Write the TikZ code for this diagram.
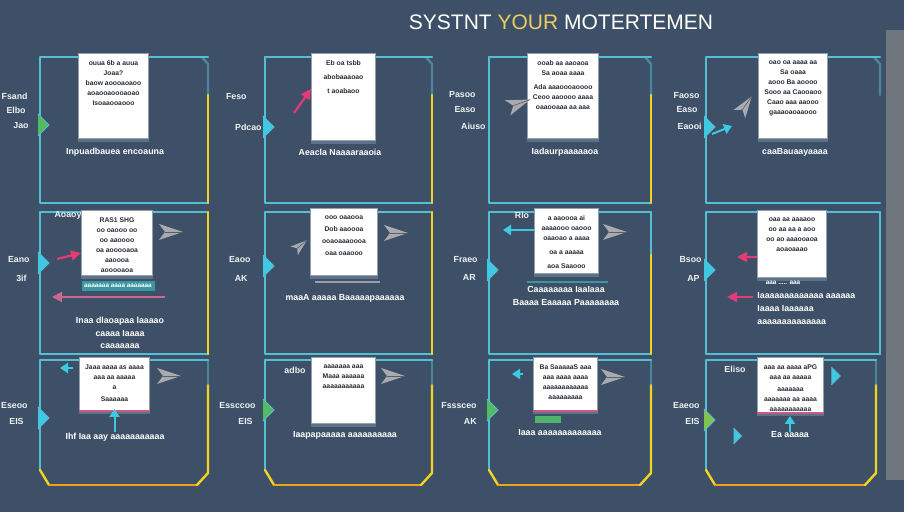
\documentclass[tikz,border=0pt]{standalone}
\usepackage{fontspec}
\setmainfont{Liberation Sans}
\usetikzlibrary{positioning, arrows.meta}

\definecolor{slate}{RGB}{61,80,103}
\definecolor{edgecy}{RGB}{84,190,212}
\definecolor{edgeyl}{RGB}{240,212,32}
\definecolor{edgeor}{RGB}{242,162,22}
\definecolor{cardrim}{RGB}{150,160,170}
\definecolor{cardfoot}{RGB}{92,114,137}
\definecolor{ink}{RGB}{40,44,52}
\definecolor{arrgrey}{RGB}{168,170,176}
\definecolor{arrpink}{RGB}{228,58,118}
\definecolor{arrcyan}{RGB}{62,200,226}
\definecolor{arrgreen}{RGB}{84,186,96}
\definecolor{teal}{RGB}{58,150,160}
\definecolor{sidebar}{RGB}{112,118,126}
\definecolor{titlegold}{RGB}{236,204,96}

\tikzset{
  edgec/.style={draw=edgecy, line width=1.2pt, line cap=round, line join=round},
  edgey/.style={draw=edgeyl, line width=1.2pt, line cap=round, line join=round},
  edgeo/.style={draw=edgeor, line width=1.4pt, line cap=round},
  card/.style={draw=cardrim, fill=white, line width=0.5pt, inner sep=0pt, anchor=north west},
  cardtxt/.style={font=\fontsize{3.4}{5}\selectfont\bfseries, text=ink, align=center, inner sep=0pt, anchor=north},
  capt/.style={font=\fontsize{4.4}{6.4}\selectfont\bfseries, text=white, align=center, inner sep=0pt},
  sidelbl/.style={font=\fontsize{4.4}{5.5}\selectfont\bfseries, text=white!92!slate, inner sep=0pt, anchor=east},
  title/.style={font=\fontsize{10.5}{12}\selectfont, text=white, inner sep=0pt},
  pinkarr/.style={draw=arrpink, line width=1.1pt, -{Triangle[length=5pt, width=5pt]}},
  cyanarr/.style={draw=arrcyan, line width=1pt, -{Triangle[length=4pt, width=5pt]}},
  pics/plane/.style={code={
    \fill[arrgrey] (-11,-8) -- (13,0) -- (-11,8) -- (-5,0) -- cycle;
    \draw[arrgrey!55!black, line width=0.3pt] (-5,0) -- (13,0);}},
  pics/edgetri/.style={code={
    \fill[#1] (-2,-11) -- (9,0) -- (-2,11) -- cycle;
    \draw[edgecy, line width=0.5pt] (-2,-11) -- (9,0) -- (-2,11);}},
}

\newcommand\notecard[6]{%
  \node[card, minimum width=#4*0.5pt, minimum height=#5*0.5pt] (#1) at (#2,#3) {};
  \draw[cardfoot, line width=1.3pt] ([yshift=-0.7pt]#1.south west) -- ([yshift=-0.7pt]#1.south east);
  \node[cardtxt] (#1t) at ([yshift=-3.5pt]#1.north) {#6};}

\begin{document}
\begin{tikzpicture}[x=0.5pt, y=-0.5pt]
\fill[slate] (0,0) rectangle (904,512);
\useasboundingbox (0,0) rectangle (904,512);
\fill[sidebar] (886,30) rectangle (904,480);

\node[title] (ttl) at (561,22) {SYSTNT {\color{titlegold}YOUR} MOTERTEMEN};

% panel frames, rows 1 and 2
\foreach \xl/\xr in {40/208, 265/432, 489/651, 706/880} {
  \draw[edgec] (\xr,57) -- (\xl,57) -- (\xl,203) -- (\xr,203);
  \draw[edgec, opacity=.5] (\xr-6,57) -- (\xr,64) -- (\xr,95);
  \draw[edgec] (\xr,212) -- (\xl,212) -- (\xl,354) -- (\xr,354);
}
\foreach \xr in {208, 432, 651}
  \draw[edgey] (\xr,95) -- (\xr,203);
\draw[edgey] (208,212) -- (208,354);
\draw[edgey] (432,212) -- (432,354);
\draw[edgec] (651,212) -- (651,255);
\draw[edgey] (651,255) -- (651,354);
\draw[edgec] (880,212) -- (880,354);

% panel frames, row 3
\foreach \xl/\xr in {40/208, 265/432, 489/651, 706/876} {
  \draw[edgec] (\xr,360) -- (\xl,360) -- (\xl,470);
  \draw[edgey] (\xl,470) -- (\xl+9,485);
  \draw[edgeo] (\xl+9,485) -- (\xr-11,485);
  \draw[edgey] (\xr-11,485) -- (\xr,473) -- (\xr,385);
  \draw[edgec, opacity=.5] (\xr,360) -- (\xr,385);
}

% note cards
\notecard{c11}{78}{53}{70}{85}{ouua 6b a auua\\ Joaa?\\ baow aoooaoaoo\\ aoaooaoooaoao\\ Isoaaooaooo}
\notecard{c12}{311}{53}{64}{87}{Eb oa tsbb\\[2pt] abobaaaoao\\[2pt] t aoabaoo}
\notecard{c13}{527}{53}{71}{85}{ooab aa aaoaoa\\ Sa aoaa aaaa\\[2pt] Ada aaaoooaoooo\\ Ceoo aaoooo aaaa\\ oaaooaaa aa aaa}
\notecard{c14}{758}{53}{69}{85}{oao oa aaaa aa\\ Sa oaaa\\ aooo Ba aoooo\\ Sooo aa Caooaoo\\ Caao aaa aaooo\\ gaaaoaoaaooo}
\notecard{c21}{81}{210}{71}{65}{RAS1 SHG\\ oo oaooo oo\\ oo aaoooo\\ oa aooooaoa\\ aaoooa\\ aooooaoa}
\notecard{c22}{310}{208}{67}{67}{ooo oaaooa\\[1pt] Dob aaoooa\\[1pt] ooaoaaaoooa\\[1pt] oaa oaaooo}
\notecard{c23}{534}{208}{64}{65}{a aaoooa ai\\ aaaaooo oaooo\\ oaaoao a aaaa\\[2pt] oa a aaaaa\\[2pt] aoa Saaooo}
\notecard{c24}{757}{210}{69}{67}{oaa aa aaaaoo\\ oo aa aa a aoo\\ oo ao aaaooaoa\\ aoaoaaao}
\notecard{c31}{79}{357}{70}{53}{Jaaa aaaa as aaaa\\ aaa aa aaaaa\\ a\\[1pt] Saaaaaa}
\notecard{c32}{311}{357}{64}{66}{aaaaaaa aaa\\ Maaa aaaaaa\\ aaaaaaaaaaa}
\notecard{c33}{533}{357}{64}{53}{Ba SaaaaaS aaa\\ aaa aaaa aaaa\\ aaaaaaaaaaaa\\ aaaaaaaaa}
\notecard{c34}{757}{357}{66}{55}{aaa aa aaaa aPG\\ aaa aa aaaaa\\[1pt] aaaaaaa\\ aaaaaaa aa aaaa\\ aaaaaaaaaaa}
\foreach \c in {c31, c33, c34}
  \draw[arrpink!70!cardrim, line width=0.8pt] (\c.south west) -- (\c.south east);

% strips under cards
\fill[teal] (82,281) rectangle (155,291);
\node[capt, font=\fontsize{3.2}{4}\selectfont\bfseries] (s21) at (118,286) {aaaaaaa aaaa aaaaaaa};
\draw[teal, line width=1pt] (527,282) -- (608,282);
\draw[cardrim, line width=0.6pt] (315,282) -- (380,282);
\node[capt, font=\fontsize{3.2}{4}\selectfont\bfseries] (s24) at (783,283) {aaa ..... aaa};
\fill[arrgreen!80!teal] (535,416) rectangle (561,423);

% captions
\node[capt] (k11) at (115,152) {Inpuadbauea encoauna};
\node[capt] (k12) at (340,152) {Aeacla Naaaaraaoia};
\node[capt] (k13) at (565,152) {Iadaurpaaaaaoa};
\node[capt] (k14) at (795,152) {caaBauaayaaaa};
\node[capt] (k21) at (120,333) {Inaa dlaoapaa laaaao\\ caaaa Iaaaa\\ caaaaaaa};
\node[capt] (k22) at (345,298) {maaA aaaaa Baaaaapaaaaaa};
\node[capt] (k23) at (566,296) {Caaaaaaaa IaaIaaa\\ Baaaa Eaaaaa Paaaaaaaa};
\node[capt, align=left, anchor=north west] (k24) at (757,292) {Iaaaaaaaaaaaaa aaaaaa\\ Iaaaa Iaaaaaa\\ aaaaaaaaaaaaaa};
\node[capt] (k31) at (115,437) {Ihf Iaa aay aaaaaaaaaaa};
\node[capt] (k32) at (345,435) {Iaapapaaaaa aaaaaaaaaa};
\node[capt] (k33) at (560,433) {Iaaa aaaaaaaaaaaaa};
\node[capt] (k34) at (790,435) {Ea aaaaa};

% small labels inside frames
\node[sidelbl, anchor=center] (i21) at (68,215) {Aoaoy};
\node[sidelbl, anchor=center] (i23) at (522,215) {Rlo};
\node[sidelbl, anchor=center] (i32) at (295,370) {adbo};
\node[sidelbl, anchor=center] (i34) at (735,369) {Eliso};

% side labels
\node[sidelbl] (l1a) at (28,96) {Fsand};
\node[sidelbl] (l1b) at (26,110) {Elbo};
\node[sidelbl] (l1c) at (29,126) {Jao};
\node[sidelbl] (l1d) at (30,260) {Eano};
\node[sidelbl] (l1e) at (27,278) {3if};
\node[sidelbl] (l1f) at (28,406) {Eseoo};
\node[sidelbl] (l1g) at (24,421) {EIS};
\node[sidelbl] (l2a) at (247,97) {Feso};
\node[sidelbl] (l2b) at (262,127) {Pdcao};
\node[sidelbl] (l2c) at (251,260) {Eaoo};
\node[sidelbl] (l2d) at (248,278) {AK};
\node[sidelbl] (l2e) at (256,406) {Essccoo};
\node[sidelbl] (l2f) at (253,421) {EIS};
\node[sidelbl] (l3a) at (476,95) {Pasoo};
\node[sidelbl] (l3b) at (476,110) {Easo};
\node[sidelbl] (l3c) at (486,126) {Aiuso};
\node[sidelbl] (l3d) at (478,260) {Fraeo};
\node[sidelbl] (l3e) at (476,277) {AR};
\node[sidelbl] (l3f) at (477,406) {Fsssceo};
\node[sidelbl] (l3g) at (477,421) {AK};
\node[sidelbl] (l4a) at (700,96) {Faoso};
\node[sidelbl] (l4b) at (698,110) {Easo};
\node[sidelbl] (l4c) at (702,126) {Eaooi};
\node[sidelbl] (l4d) at (702,260) {Bsoo};
\node[sidelbl] (l4e) at (700,278) {AP};
\node[sidelbl] (l4f) at (700,406) {Eaeoo};
\node[sidelbl] (l4g) at (700,421) {EIS};

% grey arrow heads
\pic at (170,232) {plane};
\pic at (168,376) {plane};
\pic at (395,233) {plane};
\pic at (392,376) {plane};
\pic at (614,232) {plane};
\pic at (612,377) {plane};
\pic[rotate=20] at (518,104) {plane};
\pic[rotate=55, scale=.9] at (745,106) {plane};
\pic[rotate=40, scale=.7] at (300,246) {plane};

% markers on the left frame edges
\pic at (40,125) {edgetri=arrgreen};
\pic at (40,263) {edgetri=arrcyan};
\pic at (40,418) {edgetri=arrcyan};
\pic at (265,127) {edgetri=arrcyan};
\pic at (265,266) {edgetri=arrcyan};
\pic at (265,410) {edgetri=arrgreen};
\pic at (489,270) {edgetri=arrcyan};
\pic at (489,410) {edgetri=arrgreen};
\pic at (706,127) {edgetri=arrcyan};
\pic at (706,270) {edgetri=arrcyan};
\pic at (706,420) {edgetri=arrgreen!70!edgeyl};

% pink connectors
\coordinate (p12) at (294,113);
\coordinate (p21) at (57,259);
\coordinate (q21) at (165,297);
\coordinate (h21) at (52,297);
\coordinate (p24) at (737,257);
\coordinate (q24) at (727,297);
\draw[pinkarr] (p12) -- ([yshift=4pt]c12.west);
\draw[pinkarr] (p21) -- ([yshift=-5pt]c21.west);
\draw[pinkarr, draw=arrpink!60!arrgrey, line width=0.8pt] (q21) -- (h21);
\draw[pinkarr] (c24.west |- p24) -- (p24);
\draw[pinkarr] ([xshift=-2pt]k24.west |- q24) -- (q24);

% cyan connectors
\coordinate (a31) at (60,368);
\coordinate (a23) at (503,230);
\coordinate (a33) at (512,374);
\coordinate (a14) at (732,126);
\coordinate (a34) at (790,416);
\draw[cyanarr] ([xshift=-3pt]c31.west |- a31) -- (a31);
\draw[cyanarr] (c23.west |- a23) -- (a23);
\draw[cyanarr] ([xshift=-5pt]c33.west |- a33) -- (a33);
\draw[cyanarr] (712,134) -- (a14);
\draw[cyanarr] (k34.north) -- (a34);
\draw[cyanarr] (c31.south |- k31.north) -- ([yshift=1pt]c31.south);
\pic[scale=.8] at (833,376) {edgetri=arrcyan};
\pic[scale=.7] at (735,436) {edgetri=arrcyan};
\end{tikzpicture}
\end{document}
